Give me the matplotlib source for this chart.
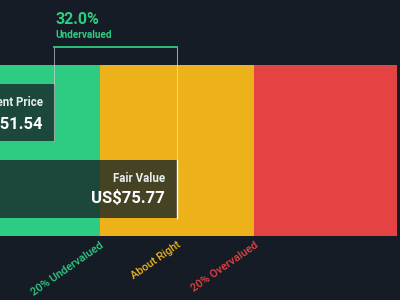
import matplotlib.pyplot as plt
from matplotlib.patches import Rectangle

plt.rcParams['font.family'] = ['Roboto', 'DejaVu Sans']

# Valuation data
current_price = 51.54
fair_value = 75.77
band_labels = ['20% Undervalued', 'About Right', '20% Overvalued']
band_colors = ['#2ecc83', '#edb21a', '#e54343']
band_mult = [0.8, 1.2, 1.572]   # upper edge of each band, as multiple of fair value
undervalued_pct = (fair_value - current_price) / fair_value * 100

bg = '#161c25'
fig = plt.figure(figsize=(4, 3), dpi=100, facecolor=bg)
ax = fig.add_axes([0, 0, 1, 1])
ax.set_facecolor(bg)

# x in price units, y in pixel units (top = 0)
px_per_unit = 154 / (fair_value * (band_mult[1] - band_mult[0]))
x_left = fair_value * band_mult[0] - 100 / px_per_unit
ax.set_xlim(x_left, x_left + 400 / px_per_unit)
ax.set_ylim(300, 0)
ax.axis('off')

# valuation bands
band_top, band_bot = 65, 236
start = 0
for mult, col in zip(band_mult, band_colors):
    end = fair_value * mult
    ax.add_patch(Rectangle((start, band_top), end - start, band_bot - band_top,
                           facecolor=col, edgecolor='none', zorder=1))
    start = end

overlay = '#172327'
# current price box
ax.add_patch(Rectangle((0, 84), current_price, 57, facecolor=overlay, alpha=0.78,
                       edgecolor='none', zorder=2))
ax.plot([current_price, current_price], [84, 141], color='#8fa8a0', lw=0.8, zorder=3)
# fair value box
ax.add_patch(Rectangle((0, 160), fair_value, 58, facecolor=overlay, alpha=0.78,
                       edgecolor='none', zorder=2))
ax.plot([fair_value, fair_value], [160, 218], color='#ffffff', lw=1, zorder=3)

# bracket between price and fair value
ax.plot([current_price, fair_value], [47, 47], color='#2ecc83', lw=1.3, zorder=4)
ax.plot([current_price, current_price], [47, 84], color='#c8d0d0', lw=0.7, alpha=0.7, zorder=3)
ax.plot([fair_value, fair_value], [47, 160], color='#e8e8e8', lw=0.7, alpha=0.7, zorder=3)

# labels
tx = 1.5 / px_per_unit
ax.text(current_price + tx, 19, f'{undervalued_pct:.1f}%', color='#2ecc83',
        fontsize=11.5, fontweight='bold', ha='left', va='center')
ax.text(current_price + tx, 35, 'Undervalued', color='#2ecc83',
        fontsize=7.2, fontweight='bold', ha='left', va='center')

off = 11 / px_per_unit
ax.text(current_price - off, 103, 'Current Price', color='#e8eeec', fontsize=8.3,
        fontweight='bold', ha='right', va='center', zorder=5)
ax.text(current_price - off, 124, f'US${current_price:.2f}', color='#ffffff', fontsize=12,
        fontweight='bold', ha='right', va='center', zorder=5)
off = 12 / px_per_unit
ax.text(fair_value - off, 179, 'Fair Value', color='#e8eeec', fontsize=8.3,
        fontweight='bold', ha='right', va='center', zorder=5)
ax.text(fair_value - off, 198, f'US${fair_value:.2f}', color='#ffffff', fontsize=12,
        fontweight='bold', ha='right', va='center', zorder=5)

# rotated band labels
label_x = [fair_value * band_mult[0], fair_value, fair_value * band_mult[1]]
for x, lab, col in zip(label_x, band_labels, band_colors):
    ax.text(x, 240, lab, color=col, fontsize=8, fontweight='medium',
            rotation=35, ha='right', va='top', rotation_mode='anchor')

fig.savefig('out.png', dpi=100, facecolor=bg)
